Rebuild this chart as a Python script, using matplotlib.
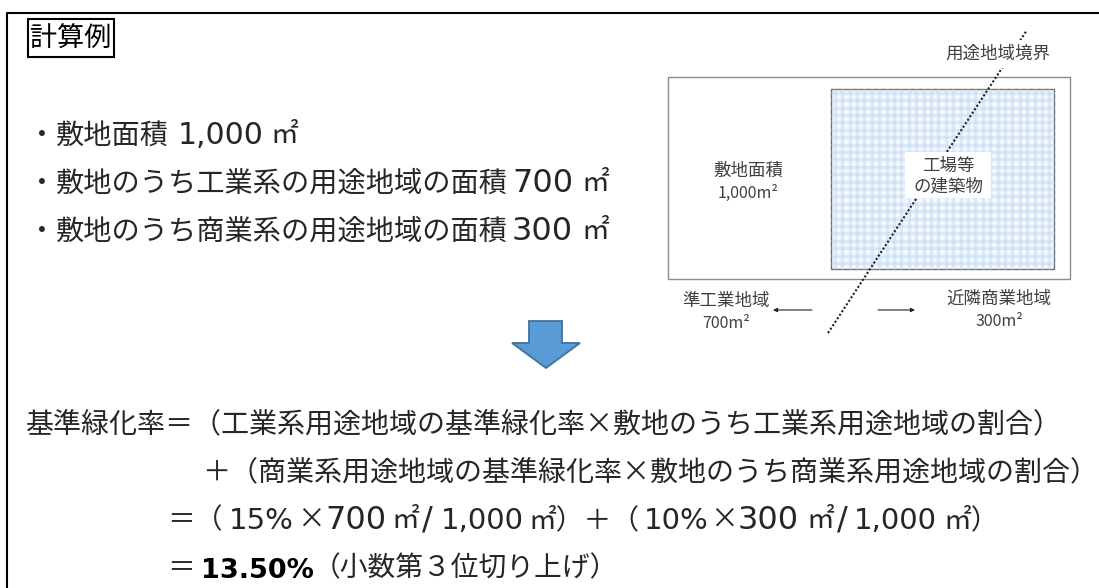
# -*- coding: utf-8 -*-
import matplotlib
matplotlib.use("Agg")
import matplotlib.pyplot as plt
from matplotlib.patches import Rectangle, Polygon

CJK = 'Noto Sans CJK JP'
NUM = 'DejaVu Sans'
plt.rcParams['font.family'] = [CJK, NUM]

# fullwidth signs, as escapes so they do not get mixed up with ascii ones
EQ, LP, RP, PL, THREE = '\uff1d', '\uff08', '\uff09', '\uff0b', '\uff13'

bullet_text = ["敷地面積", "敷地のうち工業系の用途地域の面積", "敷地のうち商業系の用途地域の面積"]
bullet_area = ["1,000", "700", "300"]
formula_1 = "基準緑化率" + EQ + LP + "工業系用途地域の基準緑化率×敷地のうち工業系用途地域の割合" + RP
formula_2 = PL + LP + "商業系用途地域の基準緑化率×敷地のうち商業系用途地域の割合" + RP
rate_a, area_a = "15%", "700"
rate_b, area_b = "10%", "300"
site_area = "1,000"
result_value = "13.50%"
result_note = LP + "小数第" + THREE + "位切り上げ" + RP

fig = plt.figure(figsize=(10.99, 5.88), dpi=100)
ax = fig.add_axes([0, 0, 1, 1])
ax.set_xlim(0, 1099)
ax.set_ylim(588, 0)
ax.axis('off')


def put(x, y, s, size=20, family=CJK, color='#262626', **kw):
    ax.text(x, y, s, fontsize=size, family=family, color=color, va='baseline', ha='left', **kw)


# outer frame: left and top only, the rest is cut off
ax.plot([6.5, 6.5, 1099], [588, 12.5, 12.5], color='black', lw=1.5)

ax.add_patch(Rectangle((28, 19), 86, 38, fc='white', ec='black', lw=1.5))
put(30, 47, "計算例", size=19.5, color='black')

# bullets
base_y = [144, 192, 240]
num_x = [178, 512, 512]
unit_x = [270, 581, 581]
num_size = [21.5, 23, 23]
for i in range(3):
    put(28, base_y[i], "・", size=20)
    put(56, base_y[i], bullet_text[i], size=20.3)
    put(num_x[i], base_y[i], bullet_area[i], size=num_size[i], family=NUM)
    put(unit_x[i], base_y[i] - 1, "㎡")

# formula
put(25, 432, formula_1, size=20.2)
put(202, 480, formula_2, size=20.2)

put(167, 528, EQ + LP)
put(229, 529, rate_a, size=21, family=NUM)
put(297, 528, "×")
put(325, 529, area_a, size=23, family=NUM)
put(391, 528, "㎡")
put(422, 529, "/", size=23, family=NUM)
put(441, 529, site_area, size=21, family=NUM)
put(528, 528, "㎡" + RP + PL + LP)
put(644, 529, rate_b, size=21, family=NUM)
put(710, 528, "×")
put(738, 529, area_b, size=23, family=NUM)
put(806, 528, "㎡")
put(837, 529, "/", size=23, family=NUM)
put(854, 529, site_area, size=21, family=NUM)
put(943, 528, "㎡" + RP)

put(167, 576, EQ)
put(201, 578, result_value, size=19.5, family=NUM, fontweight='bold', color='black')
put(313, 576, result_note)

# block arrow
ax.add_patch(Polygon([(529, 321), (562, 321), (562, 343), (580, 343), (546, 368), (512, 343), (529, 343)],
                     fc='#5b9bd5', ec='#41719c', lw=1.3))

# site plan
ax.add_patch(Rectangle((668, 77), 402, 202, fc='white', ec='#8c8c8c', lw=1))
ax.add_patch(Rectangle((831, 89), 223, 180, fc='#f5f9fd', ec='none'))
period = 7.4
for i in range(31):
    x = 831 + period * (i + 0.5)
    if x < 1054:
        ax.plot([x, x], [89, 269], color='#c4dcf2', alpha=0.5, lw=2.4, solid_capstyle='butt')
for i in range(25):
    y = 89 + period * (i + 0.5)
    if y < 269:
        ax.plot([831, 1054], [y, y], color='#c4dcf2', alpha=0.5, lw=2.4, solid_capstyle='butt')
ax.add_patch(Rectangle((831, 89), 223, 180, fc='none', ec='#6e6e6e', lw=1))

ax.plot([828, 1027], [333, 30], color='#222222', lw=1.5, ls=(0, (1, 1)))

ax.add_patch(Rectangle((905, 152), 86, 46, fc='white', ec='none', zorder=3))
ax.add_patch(Rectangle((942, 40), 112, 28, fc='white', ec='none', zorder=3))

label_color = '#404040'
labels = [(948, 166, "工場等", 12.6), (948, 186, "の建築物", 12.6),
          (748, 171, "敷地面積", 12.6), (748, 193, "1,000m²", 11.5),
          (998, 54, "用途地域境界", 12.6),
          (726, 301, "準工業地域", 12.6), (726, 324, "700m²", 11.5),
          (999, 299, "近隣商業地域", 12.6), (999, 321, "300m²", 11.5)]
for x, y, s, size in labels:
    ax.text(x, y, s, fontsize=size, ha='center', va='center', color=label_color, zorder=4)

arrow = dict(arrowstyle='-|>', color='#222222', lw=0.8, mutation_scale=6, shrinkA=0, shrinkB=0)
ax.annotate("", xy=(773, 310), xytext=(812, 310), arrowprops=arrow)
ax.annotate("", xy=(915, 310), xytext=(878, 310), arrowprops=arrow)

fig.savefig('out.png', dpi=100)
